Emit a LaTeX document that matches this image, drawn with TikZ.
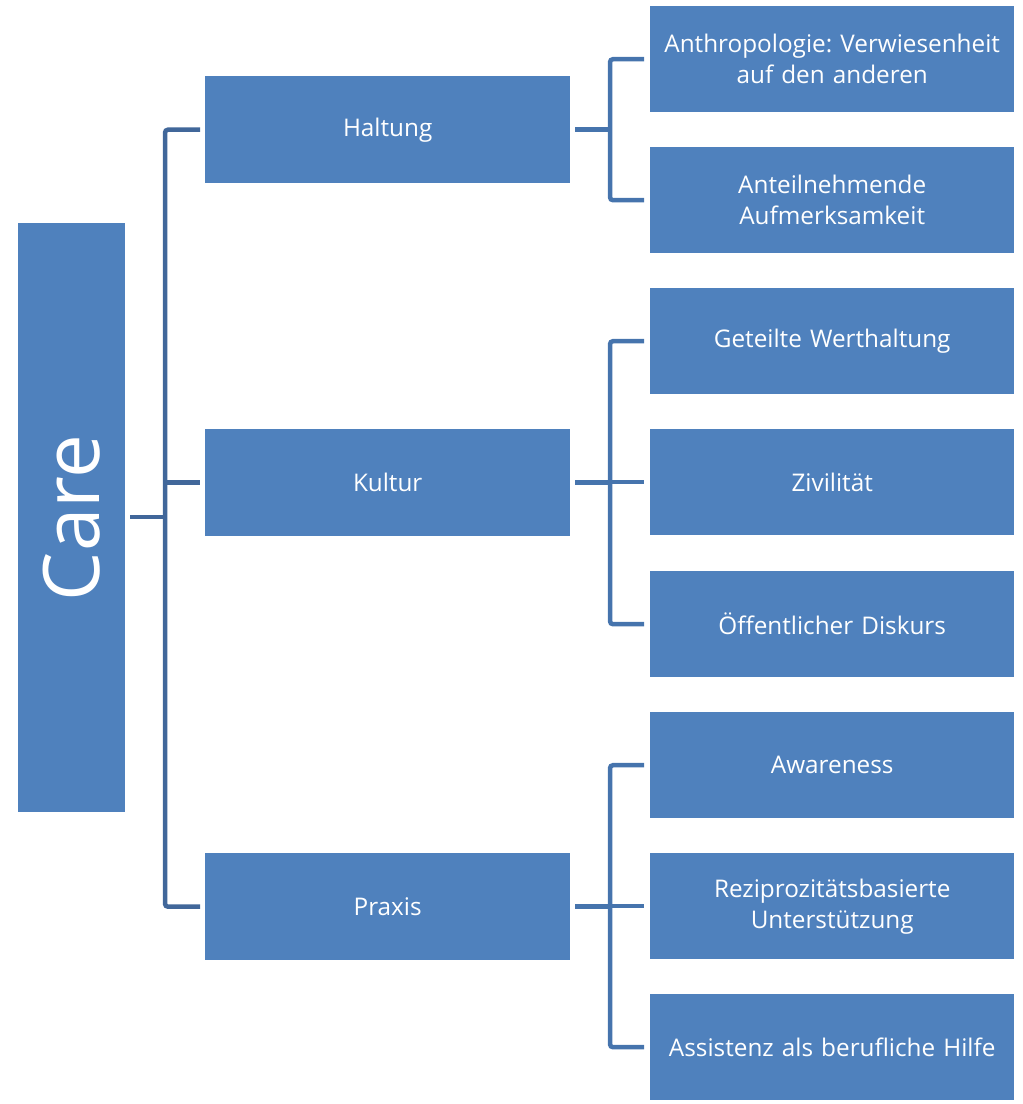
\documentclass[tikz,border=0pt]{standalone}
\usepackage{fontspec}
\setmainfont{Open Sans}
\frenchspacing
\definecolor{boxblue}{HTML}{4F81BD}
\definecolor{lineL}{HTML}{41679A}
\definecolor{lineR}{HTML}{4674AD}
\begin{document}
\begin{tikzpicture}[x=1pt,y=-1pt,
  box/.style={fill=boxblue, draw=none, text=white, minimum width=365pt, minimum height=107pt, inner sep=0pt, anchor=north west, align=center, font=\fontsize{24.3}{31}\selectfont},
  leaf/.style={box, minimum width=364pt, minimum height=106pt, text width=360pt},
  connL/.style={draw=lineL, line width=4.5pt, rounded corners=3pt},
  connR/.style={draw=lineR, line width=4.5pt, rounded corners=3pt}]
\useasboundingbox (0,0) rectangle (1023,1104);
\node[box, minimum width=107pt, minimum height=589pt] (care) at (18,223) {};
\node[text=white, rotate=90, font=\fontsize{78}{78}\selectfont, inner sep=0pt] (caretext) at (care.center) {Care};
\node[box] (haltung) at (205,76) {Haltung};
\node[box] (kultur) at (205,429) {Kultur};
\node[box] (praxis) at (205,853) {Praxis};
\node[leaf] (l1) at (650,6) {Anthropologie: Verwiesenheit\\auf den anderen};
\node[leaf] (l2) at (650,147) {Anteilnehmende\\Aufmerksamkeit};
\node[leaf] (l3) at (650,288) {Geteilte Werthaltung};
\node[leaf] (l4) at (650,429) {Zivilität};
\node[leaf] (l5) at (650,571) {Öffentlicher Diskurs};
\node[leaf] (l6) at (650,712) {Awareness};
\node[leaf] (l7) at (650,853) {Reziprozitätsbasierte\\Unterstützung};
\node[leaf] (l8) at (650,994) {Assistenz als berufliche Hilfe};
% left tree
\coordinate (cj) at (165,517);
\draw[connL] ([xshift=5pt]care.east |- cj) -- (cj);
\draw[connL] ([xshift=-5pt]haltung.west) -| (cj |- praxis.west) -- ([xshift=-5pt]praxis.west);
\draw[connL] (cj |- kultur.west) -- ([xshift=-5pt]kultur.west);
% right trees
\foreach \p/\a/\b in {haltung/l1/l2, kultur/l3/l5, praxis/l6/l8}{
  \coordinate (j) at (610,0 |- \p.east);
  \draw[connR] ([xshift=5pt]\p.east) -- (j);
  \draw[connR] ([xshift=-6pt]\a.west) -| (j |- \b.west) -- ([xshift=-6pt]\b.west);
}
\draw[connR] (610,0 |- l4.west) -- ([xshift=-6pt]l4.west);
\draw[connR] (610,0 |- l7.west) -- ([xshift=-6pt]l7.west);
\end{tikzpicture}
\end{document}
